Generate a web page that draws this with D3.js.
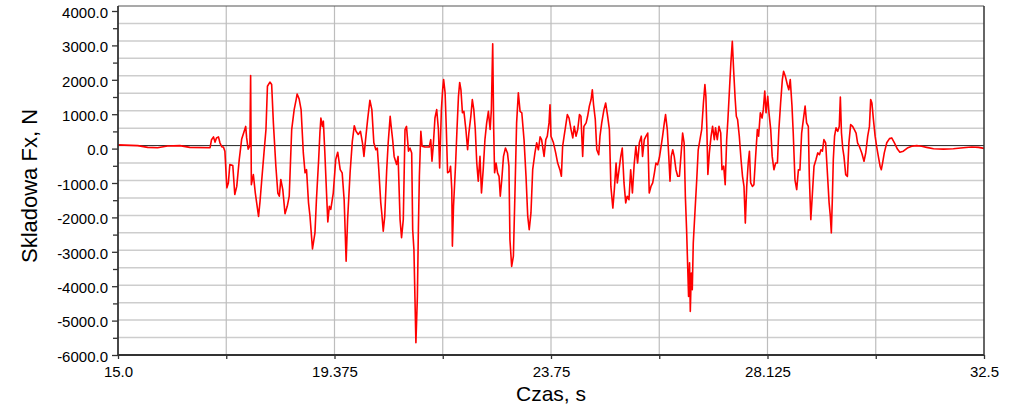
<!DOCTYPE html>
<html><head><meta charset="utf-8">
<script src="https://cdn.jsdelivr.net/npm/d3@7"></script>
<style>
body{margin:0;background:#fff;}
text{font-family:Arial,"Liberation Sans",sans-serif;fill:#000;}
</style></head>
<body><svg id="chart" width="1024" height="414"></svg>
<script>
// ---- data ----
const xTickValues = [15, 17.1875, 19.375, 21.5625, 23.75, 25.9375, 28.125, 30.3125, 32.5];
const xTickLabels = ["15.0", "", "19.375", "", "23.75", "", "28.125", "", "32.5"];
const yMajorTicks = [-6000, -5000, -4000, -3000, -2000, -1000, 0, 1000, 2000, 3000, 4000];
const yMinorTicks = [-5500, -4500, -3500, -2500, -1500, -500, 500, 1500, 2500, 3500];
const xTitle = "Czas, s";
const yTitle = "Skladowa Fx, N";
// time [s], Fx [N]
const fxSeries = [
[15.0,20],[15.4,0],[15.6,-50],[15.8,-60],[16.0,-10],[16.25,0],[16.45,-50],[16.86,-60],
[16.89,170],[16.93,250],[16.96,100],[16.99,220],[17.03,250],[17.06,80],[17.10,-40],[17.13,-40],
[17.16,-160],[17.20,-1210],[17.23,-1070],[17.26,-540],[17.32,-570],[17.36,-1400],[17.40,-1170],[17.45,-400],
[17.50,190],[17.55,410],[17.58,550],[17.60,220],[17.63,-100],[17.665,0],[17.68,2010],[17.695,-1120],
[17.735,-830],[17.775,-1360],[17.84,-2030],[17.87,-1600],[17.90,-1070],[17.95,-210],[17.99,460],[18.02,1700],
[18.07,1820],[18.105,1750],[18.14,650],[18.19,-590],[18.23,-1360],[18.26,-1450],[18.29,-970],[18.33,-1260],
[18.375,-1950],[18.42,-1740],[18.46,-1450],[18.51,460],[18.56,1030],[18.60,1320],[18.62,1480],[18.66,1340],
[18.70,1030],[18.745,-210],[18.78,-780],[18.81,-690],[18.85,-1640],[18.88,-2030],[18.93,-2960],[18.98,-2500],
[19.01,-1550],[19.055,-400],[19.08,360],[19.10,790],[19.13,550],[19.15,700],[19.18,-210],[19.22,-1550],
[19.24,-2190],[19.27,-1740],[19.30,-1830],[19.35,-1360],[19.40,-400],[19.44,-190],[19.49,-690],[19.53,-780],
[19.57,-1550],[19.61,-3310],[19.64,-2120],[19.69,-780],[19.735,120],[19.775,570],[19.81,410],[19.855,320],
[19.90,410],[19.94,80],[19.97,-310],[20.01,270],[20.045,750],[20.09,1300],[20.13,1030],[20.17,80],
[20.21,-120],[20.24,-70],[20.27,-690],[20.31,-1640],[20.33,-1930],[20.36,-2450],[20.39,-2030],[20.43,-690],
[20.46,80],[20.50,840],[20.52,550],[20.55,170],[20.58,-310],[20.63,-540],[20.66,-310],[20.70,-2120],
[20.73,-2640],[20.765,-2120],[20.80,460],[20.83,550],[20.87,-160],[20.90,-70],[20.935,-210],[20.955,-2410],
[20.98,-2980],[21.00,-4320],[21.02,-5650],[21.05,-4320],[21.07,-2410],[21.09,-880],[21.12,410],[21.145,-20],
[21.20,-40],[21.29,-40],[21.32,170],[21.345,-450],[21.37,-20],[21.405,790],[21.44,1030],[21.475,460],
[21.50,-640],[21.535,1030],[21.56,1600],[21.58,1890],[21.61,1510],[21.635,460],[21.66,-780],[21.70,-740],
[21.72,-590],[21.745,-1260],[21.757,-2880],[21.78,-1740],[21.82,-590],[21.85,460],[21.88,1410],[21.905,1810],
[21.93,1600],[21.96,940],[21.99,980],[22.03,460],[22.065,-120],[22.09,360],[22.13,840],[22.16,1320],
[22.19,1030],[22.22,460],[22.25,-500],[22.28,-1020],[22.315,-310],[22.345,-1360],[22.38,-690],[22.415,170],
[22.45,650],[22.485,980],[22.52,460],[22.545,1030],[22.572,2920],[22.592,460],[22.61,-780],[22.64,-500],
[22.67,-780],[22.70,-880],[22.725,-1450],[22.755,-980],[22.79,-310],[22.83,-70],[22.87,-210],[22.90,-590],
[22.92,-2690],[22.955,-3460],[22.99,-3170],[23.02,-1450],[23.055,650],[23.09,1510],[23.125,980],[23.16,940],
[23.205,170],[23.245,-880],[23.28,-2030],[23.31,-2410],[23.345,-1930],[23.38,-690],[23.425,-210],[23.46,80],
[23.495,-120],[23.53,250],[23.56,170],[23.61,-310],[23.645,170],[23.675,270],[23.71,650],[23.73,1170],
[23.75,270],[23.80,80],[23.845,-210],[23.885,-500],[23.93,-690],[23.96,-880],[23.985,-20],[24.015,270],
[24.045,550],[24.08,890],[24.115,790],[24.155,460],[24.19,220],[24.22,550],[24.255,270],[24.29,460],
[24.325,890],[24.355,840],[24.39,-310],[24.415,550],[24.46,650],[24.49,840],[24.525,1130],[24.56,1320],
[24.585,1600],[24.61,1170],[24.645,750],[24.675,-120],[24.715,-260],[24.74,270],[24.775,650],[24.82,1030],
[24.855,1220],[24.895,840],[24.93,460],[24.96,-1170],[25.00,-1790],[25.03,-1260],[25.065,-500],[25.09,-1070],
[25.125,-690],[25.16,-310],[25.19,-70],[25.225,-1070],[25.26,-1640],[25.29,-1450],[25.325,-1550],[25.36,-690],
[25.395,-1360],[25.43,-550],[25.465,-20],[25.50,-500],[25.535,80],[25.575,270],[25.60,-310],[25.635,170],
[25.67,270],[25.705,360],[25.735,-1360],[25.77,-1170],[25.805,-1070],[25.84,-780],[25.87,-500],[25.905,-550],
[25.94,-350],[25.975,-20],[26.005,270],[26.04,650],[26.065,890],[26.10,460],[26.13,-310],[26.155,-1020],
[26.18,-310],[26.21,-120],[26.24,-310],[26.275,-690],[26.31,-880],[26.345,-880],[26.375,-310],[26.41,360],
[26.44,80],[26.465,-1450],[26.49,-2410],[26.51,-3360],[26.53,-4320],[26.55,-3360],[26.565,-4750],[26.585,-3650],
[26.605,-4130],[26.625,-2790],[26.66,-1880],[26.695,-980],[26.725,-120],[26.76,170],[26.795,460],[26.83,1220],
[26.86,1750],[26.88,1410],[26.90,460],[26.92,-830],[26.95,-210],[26.985,270],[27.015,550],[27.05,170],
[27.075,510],[27.11,170],[27.145,550],[27.18,360],[27.205,-690],[27.24,-590],[27.27,-1120],[27.30,170],
[27.325,750],[27.36,1700],[27.385,2370],[27.414,2990],[27.44,2180],[27.47,1370],[27.495,840],[27.52,750],
[27.555,270],[27.59,-400],[27.62,-880],[27.65,-1170],[27.677,-2220],[27.705,-1170],[27.735,-500],[27.76,-160],
[27.785,-1070],[27.82,-1170],[27.85,-1120],[27.885,-310],[27.92,460],[27.945,270],[27.98,940],[28.015,790],
[28.04,1030],[28.07,1560],[28.095,940],[28.13,1410],[28.155,940],[28.19,460],[28.22,-310],[28.255,-690],
[28.29,-500],[28.325,-500],[28.355,460],[28.39,1220],[28.425,1890],[28.45,2130],[28.485,1990],[28.525,1750],
[28.555,1600],[28.585,1890],[28.62,1130],[28.645,360],[28.68,-980],[28.715,-1260],[28.75,-690],[28.78,-700],
[28.815,360],[28.85,750],[28.885,1130],[28.915,650],[28.95,550],[28.97,-880],[29.00,-2120],[29.025,-1550],
[29.065,-590],[29.105,-400],[29.14,-210],[29.175,-260],[29.205,-120],[29.235,-160],[29.265,170],[29.30,80],
[29.335,-780],[29.37,-1640],[29.395,-2030],[29.415,-2500],[29.435,-1550],[29.455,-400],[29.48,270],[29.51,510],
[29.545,410],[29.575,550],[29.597,1390],[29.62,360],[29.645,-70],[29.67,-310],[29.705,-830],[29.74,-880],
[29.77,80],[29.805,600],[29.845,550],[29.88,460],[29.915,360],[29.945,80],[29.98,-20],[30.03,-210],
[30.075,-450],[30.11,-210],[30.15,270],[30.185,550],[30.21,1320],[30.235,1220],[30.265,750],[30.30,270],
[30.33,-20],[30.365,-310],[30.40,-590],[30.425,-690],[30.45,-500],[30.485,-210],[30.535,80],[30.59,200],
[30.635,220],[30.69,80],[30.75,-100],[30.80,-190],[30.87,-160],[30.95,-70],[31.04,-20],[31.14,0],
[31.24,-20],[31.34,-50],[31.48,-90],[31.68,-100],[31.88,-90],[32.08,-60],[32.25,-40],[32.39,-50],[32.5,-80]
];

// ---- chart ----
const svg = d3.select("#chart");
const L = 118, R = 984, B = 355, T = 6;
const x = d3.scaleLinear().domain([15, 32.5]).range([L, R]);
const yGrid = d3.scaleLinear().domain([-6000, 4000]).range([B, T]);
const yAxisScale = d3.scaleLinear().domain([-6000, 4000]).range([B, 11]);

// horizontal grid (every 500)
const gridVals = yMajorTicks.concat(yMinorTicks).filter(v => v !== 0 && v > -6000 && v < 4000);
svg.append("g").selectAll("line").data(gridVals).join("line")
  .attr("x1", L).attr("x2", R)
  .attr("y1", d => yGrid(d)).attr("y2", d => yGrid(d))
  .attr("stroke", "#cdcdcd").attr("stroke-width", 1.5);

// vertical grid
svg.append("g").selectAll("line").data(xTickValues.slice(1, -1)).join("line")
  .attr("x1", d => x(d)).attr("x2", d => x(d))
  .attr("y1", T).attr("y2", B)
  .attr("stroke", "#bdbdbd").attr("stroke-width", 1.2);

// zero line
svg.append("line").attr("x1", L).attr("x2", R)
  .attr("y1", yGrid(0)).attr("y2", yGrid(0))
  .attr("stroke", "#222").attr("stroke-width", 1);

// data line
svg.append("path").datum(fxSeries)
  .attr("fill", "none").attr("stroke", "#ff0000").attr("stroke-width", 1.6)
  .attr("stroke-linejoin", "round")
  .attr("d", d3.line().x(d => x(d[0])).y(d => yGrid(d[1])));

// frame
svg.append("line").attr("x1", L).attr("x2", R).attr("y1", T).attr("y2", T).attr("stroke", "#555").attr("stroke-width", 1.2);
svg.append("line").attr("x1", R).attr("x2", R).attr("y1", T).attr("y2", B).attr("stroke", "#333").attr("stroke-width", 1.5);
svg.append("line").attr("x1", L).attr("x2", L).attr("y1", T).attr("y2", B).attr("stroke", "#333").attr("stroke-width", 1.8);
svg.append("line").attr("x1", L).attr("x2", R).attr("y1", B).attr("y2", B).attr("stroke", "#333").attr("stroke-width", 1.8);

// y axis
const yAx = svg.append("g").attr("transform", `translate(${L},0)`)
  .call(d3.axisLeft(yAxisScale).tickValues(yMajorTicks).tickFormat(d => d.toFixed(1)).tickSize(6).tickPadding(4));
yAx.select(".domain").remove();
yAx.selectAll("text").style("font-size", "15px").attr("dy", "0.42em").attr("fill", "#000");
yAx.selectAll("line").attr("stroke", "#333").attr("stroke-width", 1.3);
const yMin = svg.append("g").attr("transform", `translate(${L},0)`)
  .call(d3.axisLeft(yAxisScale).tickValues(yMinorTicks).tickFormat("").tickSize(5));
yMin.select(".domain").remove();
yMin.selectAll("line").attr("stroke", "#333").attr("stroke-width", 1.3);

// x axis
const xAx = svg.append("g").attr("transform", `translate(0,${B})`)
  .call(d3.axisBottom(x).tickValues(xTickValues).tickFormat((d, i) => xTickLabels[i]).tickSize(4).tickPadding(7));
xAx.select(".domain").remove();
xAx.selectAll("text").style("font-size", "15px").attr("fill", "#000");
xAx.selectAll("line").attr("stroke", "#333").attr("stroke-width", 1.3);

// titles
svg.append("text").attr("x", 551).attr("y", 401).attr("text-anchor", "middle")
  .style("font-size", "21px").text(xTitle);
svg.append("text").attr("transform", "translate(37,186) rotate(-90)").attr("text-anchor", "middle")
  .style("font-size", "22px").text(yTitle);
</script></body></html>
